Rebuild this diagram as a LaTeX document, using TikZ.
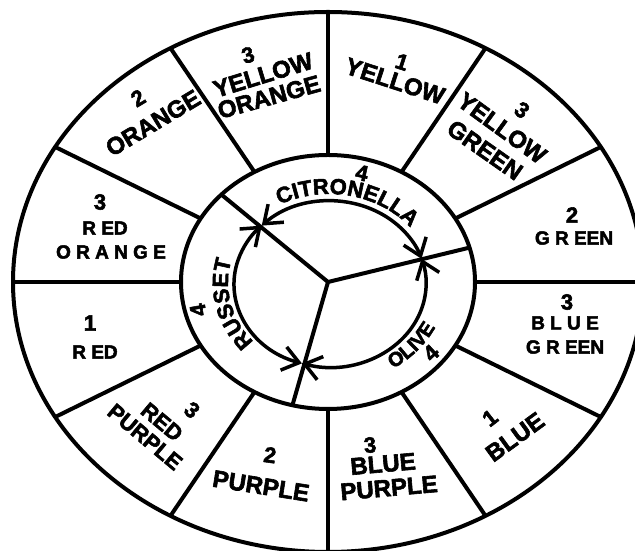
\documentclass[tikz,border=0pt]{standalone}
\usepackage{fontspec}
\setmainfont{Liberation Sans}[BoldFeatures={FakeBold=2.5}]
\usetikzlibrary{arrows.meta,calc,decorations.text}
\newcommand\fsz[1]{\fontsize{#1}{#1}\selectfont\bfseries}
\newcommand\ringfont{\fontsize{22}{22}\selectfont\bfseries}
\newcommand\olivefont{\fontsize{20}{20}\selectfont\bfseries\addfontfeature{LetterSpace=8}}
\begin{document}
\begin{tikzpicture}[x=1pt,y=1pt,
  wl/.style={line width=4pt, draw=black, line join=round},
  big/.style={font=\fsz{24}, inner sep=0pt},
  mid/.style={font=\fsz{22}, inner sep=0pt},
  num/.style={font=\fsz{22}, inner sep=0pt},
  spc/.style={font=\fsz{19}, inner sep=0pt},
  arr/.style={line width=3.5pt, {Straight Barb[length=16pt,width=24pt]}-{Straight Barb[length=16pt,width=24pt]}}]
\useasboundingbox (0,0) rectangle (635,551);
\clip (0,0) rectangle (635,551);
\coordinate (C) at (328,269);
\draw[wl] (C) ellipse[x radius=315pt, y radius=270pt];
\draw[wl] (C) ellipse[x radius=147pt, y radius=127pt];
\foreach \a in {0,30,...,330}{
  \coordinate (i\a) at ($(C)+(\a:147 and 127)$);
  \coordinate (o\a) at ($(C)+(\a:315 and 270)$);
  \draw[wl] (i\a) -- (o\a);
}
% spokes
\coordinate (sul) at ($(C)+(136.5:147 and 127)$);
\coordinate (srt) at ($(C)+(15.7:147 and 127)$);
\coordinate (sbt) at ($(C)+(256:147 and 127)$);
\draw[wl] (sul) -- (C) -- (srt) (C) -- (sbt);
% arrows
\coordinate (A) at (330,267);
\draw[arr] ($(A)+(135.3:96 and 83)$) arc[start angle=135.3, end angle=17.7, x radius=96pt, y radius=83pt];
\draw[arr] ($(A)+(253:96 and 83)$) arc[start angle=253, end angle=135.3, x radius=96pt, y radius=83pt];
\draw[arr] ($(A)+(253:96 and 83)$) arc[start angle=253, end angle=377.7, x radius=96pt, y radius=83pt];
% ring texts
\coordinate (R) at (329,268);
\path[decorate, decoration={text along path, text={|\ringfont|CITRONELLA}, text align=center}]
  ($(R)+(132:104 and 89)$) arc[start angle=132, end angle=24, x radius=104pt, y radius=89pt];
\path[decorate, decoration={text along path, text={|\ringfont|RUSSET}, text align=center}]
  ($(R)+(232:101 and 88)$) arc[start angle=232, end angle=154, x radius=101pt, y radius=88pt];
\path[decorate, decoration={text along path, text={|\olivefont|OLIVE}, text align=center}]
  ($(R)+(-80:118 and 102)$) arc[start angle=-80, end angle=0, x radius=118pt, y radius=102pt];
\node[num, rotate=-12] (c4) at (362,378) {4};
\node[num, rotate=100] (r4) at (198,241) {4};
\node[num, rotate=43] (o4) at (431,198) {4};
% segment 105: yellow orange
\node[num, rotate=16] (yo3) at (248,496) {3};
\node[big, rotate=17] (yo1) at (263,476) {YELLOW};
\node[big, rotate=15.5] (yo2) at (269,454) {ORANGE};
% segment 75: yellow
\node[num, rotate=-18] (y1) at (402,489) {1};
\node[big, rotate=-18] (y2) at (395,470) {YELLOW};
% segment 45: yellow green
\node[num, rotate=-36] (yg3) at (522,441) {3};
\node[big, rotate=-36] (yg1) at (502,423) {YELLOW};
\node[big, rotate=-35] (yg2) at (485,401) {GREEN};
% segment 15: green
\node[num] (g2) at (572,336) {2};
\node[spc] (g1) at (574,313) {G R EEN};
% segment 345: blue green
\node[num] (bg3) at (567,249) {3};
\node[spc] (bg1) at (565,228) {B L U E};
\node[spc] (bg2) at (565,204) {G R EEN};
% segment 315: blue
\node[num, rotate=38] (b1) at (490,133) {1};
\node[big, rotate=36] (b2) at (515,114) {BLUE};
% segment 285: blue purple
\node[num, rotate=5] (bp3) at (370,106) {3};
\node[big, rotate=5] (bp1) at (383,87) {BLUE};
\node[big, rotate=5] (bp2) at (389,63) {PURPLE};
% segment 255: purple
\node[num, rotate=-8] (p2) at (270,96) {2};
\node[big, rotate=-9] (p1) at (261,65) {PURPLE};
% segment 225: red purple
\node[num, rotate=-40] (rp3) at (192,141) {3};
\node[mid, rotate=-40] (rp1) at (162,129) {RED};
\node[mid, rotate=-40] (rp2) at (145,114) {PURPLE};
% segment 195: red
\node[num] (r1) at (90,228) {1};
\node[spc] (r2) at (95,199) {R ED};
% segment 165: red orange
\node[num] (ro3) at (100,349) {3};
\node[spc] (ro1) at (105,323) {R ED};
\node[spc] (ro2) at (111,299) {O R A N G E};
% segment 135: orange
\node[num, rotate=31] (o2) at (138,453) {2};
\node[big, rotate=31] (o1) at (153,428) {ORANGE};
\end{tikzpicture}
\end{document}
